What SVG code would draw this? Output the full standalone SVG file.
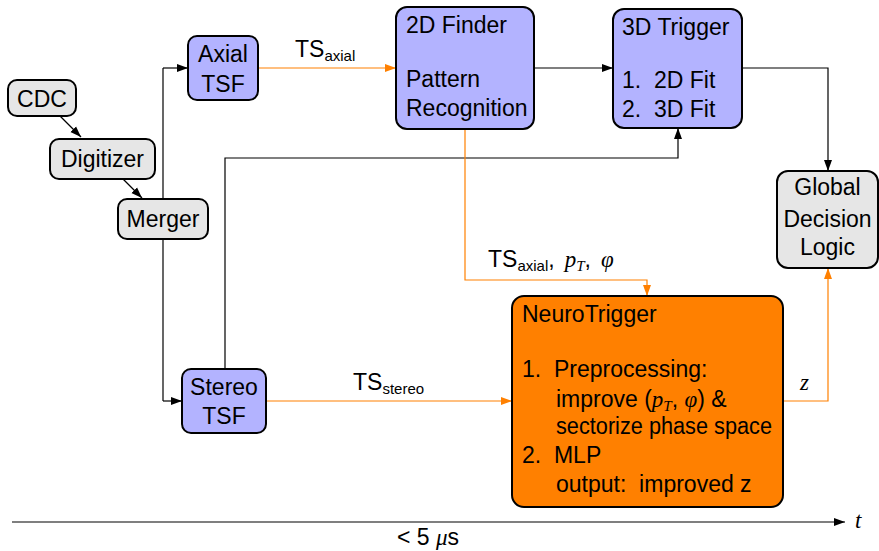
<svg xmlns="http://www.w3.org/2000/svg" width="879" height="551" viewBox="0 0 879 551">
  <style>
    .box { stroke: #000; stroke-width: 2; }
    .grey { fill: #E6E6E6; }
    .blue { fill: #B3B3FF; }
    .orange { fill: #FF8000; }
    text { font-family: "Liberation Sans", Arial, sans-serif; font-size: 23px; fill: #000; white-space: pre; }
    .c { text-anchor: middle; }
    .sub { font-size: 15px; }
    .m { font-family: "Liberation Serif", "Times New Roman", serif; font-style: italic; }
    .k { fill: none; stroke: #000; stroke-width: 1.2; }
    .o { fill: none; stroke: #FF8000; stroke-width: 1.2; }
  </style>
  <defs>
    <marker id="ak" markerWidth="12" markerHeight="10" refX="11" refY="5" orient="auto" markerUnits="userSpaceOnUse">
      <path d="M0,1 L11,5 L0,9 Z" fill="#000"/>
    </marker>
    <marker id="ao" markerWidth="12" markerHeight="10" refX="11" refY="5" orient="auto" markerUnits="userSpaceOnUse">
      <path d="M0,1 L11,5 L0,9 Z" fill="#FF8000"/>
    </marker>
  </defs>

  <!-- connectors -->
  <g id="connectors">
    <path class="k" d="M60,116 L81,137" marker-end="url(#ak)"/>
    <path class="k" d="M123,179 L142,198" marker-end="url(#ak)"/>
    <path class="k" d="M163,68 L163,401" />
    <path class="k" d="M163,68 L188,68" marker-end="url(#ak)"/>
    <path class="k" d="M163,401 L182,401" marker-end="url(#ak)"/>
    <path class="o" d="M258,68 L396,68" marker-end="url(#ao)"/>
    <path class="k" d="M534,68 L613,68" marker-end="url(#ak)"/>
    <path class="k" d="M742,68 L828,68 L828,171" marker-end="url(#ak)"/>
    <path class="k" d="M225,369 L225,158 L678,158 L678,128" marker-end="url(#ak)"/>
    <path class="o" d="M465,129 L465,280 L647,280 L647,296" marker-end="url(#ao)"/>
    <path class="o" d="M266,401 L512,401" marker-end="url(#ao)"/>
    <path class="o" d="M783,401 L828,401 L828,268" marker-end="url(#ao)"/>
    <path class="k" d="M12,522 L845,522" marker-end="url(#ak)"/>
  </g>

  <!-- connector labels -->
  <g id="labels">
    <text x="295" y="57">TS<tspan class="sub" dy="4">axial</tspan></text>
    <text x="353" y="390">TS<tspan class="sub" dy="4">stereo</tspan></text>
    <text x="488" y="267">TS<tspan class="sub" dy="4">axial</tspan><tspan dy="-4">,</tspan><tspan class="m" dx="10">p</tspan><tspan class="m sub" dy="4">T</tspan><tspan dy="-4">,</tspan><tspan class="m" dx="10">φ</tspan></text>
    <text x="800" y="390" class="m">z</text>
    <text x="855" y="528" class="m">t</text>
    <text x="397" y="545">&lt; 5 <tspan class="m">μ</tspan>s</text>
  </g>

  <g id="cdc">
    <rect class="box grey" x="8" y="80" width="68" height="36" rx="9"/>
    <text class="c" x="42" y="107">CDC</text>
  </g>
  <g id="digitizer">
    <rect class="box grey" x="50" y="139" width="105" height="40" rx="9"/>
    <text class="c" x="102.5" y="167">Digitizer</text>
  </g>
  <g id="merger">
    <rect class="box grey" x="118" y="199" width="90" height="40" rx="9"/>
    <text class="c" x="163" y="227">Merger</text>
  </g>
  <g id="axial-tsf">
    <rect class="box blue" x="188" y="36" width="70" height="64" rx="9"/>
    <text class="c" x="223" y="62">Axial</text>
    <text class="c" x="223" y="92">TSF</text>
  </g>
  <g id="stereo-tsf">
    <rect class="box blue" x="182" y="369" width="84" height="64" rx="9"/>
    <text class="c" x="224" y="395">Stereo</text>
    <text class="c" x="224" y="424">TSF</text>
  </g>
  <g id="finder-2d">
    <rect class="box blue" x="396" y="7" width="138" height="122" rx="11"/>
    <text x="406" y="33">2D Finder</text>
    <text x="406" y="87">Pattern</text>
    <text x="406" y="116">Recognition</text>
  </g>
  <g id="trigger-3d">
    <rect class="box blue" x="613" y="9" width="129" height="119" rx="11"/>
    <text x="622" y="35">3D Trigger</text>
    <text x="622" y="88" xml:space="preserve">1.  2D Fit</text>
    <text x="622" y="117" xml:space="preserve">2.  3D Fit</text>
  </g>
  <g id="gdl">
    <rect class="box grey" x="777" y="171" width="101" height="97" rx="11"/>
    <text class="c" x="827.5" y="195">Global</text>
    <text class="c" x="827.5" y="227">Decision</text>
    <text class="c" x="827.5" y="255">Logic</text>
  </g>
  <g id="neurotrigger">
    <rect class="box orange" x="512" y="296" width="271" height="211" rx="12"/>
    <text x="522" y="322">NeuroTrigger</text>
    <text x="522" y="377" xml:space="preserve">1.  Preprocessing:</text>
    <text x="556" y="407">improve (<tspan class="m">p</tspan><tspan class="m sub" dy="4">T</tspan><tspan dy="-4">, </tspan><tspan class="m">φ</tspan>) &amp;</text>
    <text x="556" y="434" textLength="216" lengthAdjust="spacingAndGlyphs">sectorize phase space</text>
    <text x="522" y="463" xml:space="preserve">2.  MLP</text>
    <text x="556" y="492" xml:space="preserve">output:  improved z</text>
  </g>
</svg>
